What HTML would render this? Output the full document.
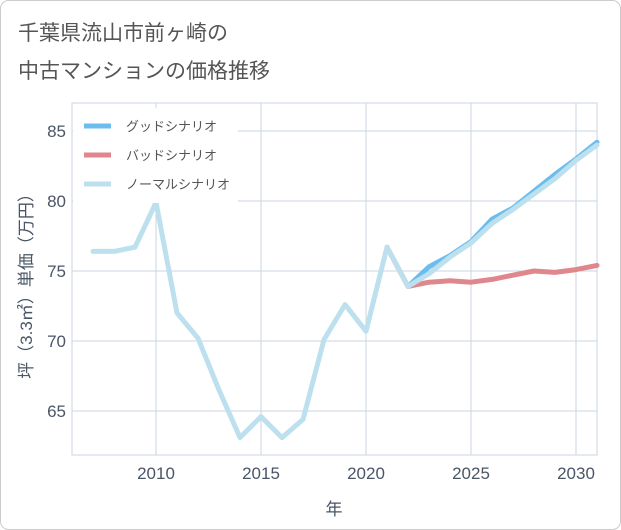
<!DOCTYPE html>
<html><head><meta charset="utf-8"><style>
body{margin:0;background:#fff;}
svg{display:block;font-family:"Liberation Sans","Noto Sans CJK JP",sans-serif;}
</style></head><body>
<svg id="c" width="621" height="530" viewBox="0 0 621 530">
<rect x="0.5" y="0.5" width="620" height="529" rx="8" fill="#fff" stroke="#ccc"/>
<text x="18" y="40" font-size="21" fill="#555">千葉県流山市前ヶ崎の</text>
<text x="18" y="78" font-size="21" fill="#555">中古マンションの価格推移</text>
<g id="grid"></g>
<g id="series"></g>
<g id="legend"></g>
<text x="334" y="515" font-size="17" fill="#4a5566" text-anchor="middle">年</text>
<text transform="translate(32,282) rotate(-90)" font-size="17" fill="#4a5566" text-anchor="middle">坪（3.3㎡）単価（万円）</text>
</svg>
<script>
const years = [2007,2008,2009,2010,2011,2012,2013,2014,2015,2016,2017,2018,2019,2020,2021,2022,2023,2024,2025,2026,2027,2028,2029,2030,2031];
const normalValues = [76.4,76.4,76.7,79.9,72.0,70.2,66.5,63.1,64.6,63.1,64.4,70.1,72.6,70.7,76.7,73.9,74.8,76.0,77.0,78.4,79.4,80.5,81.6,82.9,84.0];
const futureYears = [2022,2023,2024,2025,2026,2027,2028,2029,2030,2031];
const goodValues = [73.9,75.3,76.1,77.1,78.7,79.5,80.7,81.9,83.0,84.2];
const badValues = [73.9,74.2,74.3,74.2,74.4,74.7,75.0,74.9,75.1,75.4];
const badPast = [2021,76.7];
const xTicks = [2010,2015,2020,2025,2030];
const yTicks = [65,70,75,80,85];
const NS='http://www.w3.org/2000/svg';
const L=72,R=597,T=103,B=455;
const xs=y=>156+(y-2010)*21;
const ys=v=>271-(v-75)*14;
const g=document.getElementById('grid'),s=document.getElementById('series'),lg=document.getElementById('legend');
function mk(tag,a,p){const e=document.createElementNS(NS,tag);for(const k in a)e.setAttribute(k,a[k]);p.appendChild(e);return e;}
mk('rect',{x:L,y:T,width:R-L,height:B-T,fill:'none',stroke:'#c8d6e0'},g);
xTicks.forEach(t=>{
 const l=mk('line',{x1:xs(t),x2:xs(t),y1:T,y2:B,stroke:'#c8d6e0'},g);
 
 
 const tx=mk('text',{x:xs(t),y:479,'font-size':17,fill:'#4a5566','text-anchor':'middle'},g);
 tx.textContent=t;
 
 
});
yTicks.forEach(t=>{
 const l=mk('line',{x1:L,x2:R,y1:ys(t),y2:ys(t),stroke:'#c8d6e0'},g);
 
 
 const tx=mk('text',{x:66,y:ys(t)+6,'font-size':17,fill:'#4a5566','text-anchor':'end'},g);
 tx.textContent=t;
 
 
});
function line(xv,yv,col,name){
 const p=xv.map((x,i)=>xs(x)+','+ys(yv[i])).join(' ');
 const e=mk('polyline',{points:p,fill:'none',stroke:col,'stroke-width':5,'stroke-linejoin':'round','stroke-linecap':'round'},s);
 
 
}
line([badPast[0]].concat(futureYears),[badPast[1]].concat(badValues),'#e0868d','bad-scenario-line');
line(futureYears,goodValues,'#6bbdf0','good-scenario-line');
line(years,normalValues,'#bde0ee','normal-scenario-line');
const lb=mk('rect',{x:73,y:108,width:165,height:95,fill:'#fff'},lg);


[['グッドシナリオ','#6bbdf0',126],['バッドシナリオ','#e0868d',155],['ノーマルシナリオ','#bde0ee',184]].forEach(([t,c,y])=>{
 const l=mk('line',{x1:84,x2:111,y1:y,y2:y,stroke:c,'stroke-width':5},lg);
 
 
 const tx=mk('text',{x:126,y:y+5,'font-size':13,fill:'#555'},lg);
 tx.textContent=t;
 
 
});
</script>
</body></html>
